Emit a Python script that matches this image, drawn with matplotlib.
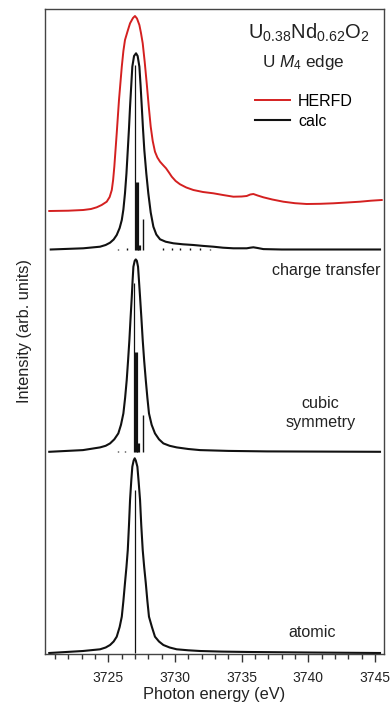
import matplotlib
matplotlib.use("Agg")
import matplotlib.pyplot as plt
from matplotlib.lines import Line2D

plt.rcParams["font.family"] = ["Liberation Sans", "DejaVu Sans"]
plt.rcParams["mathtext.fontset"] = "custom"
plt.rcParams["mathtext.rm"] = "Liberation Sans"
plt.rcParams["mathtext.it"] = "Liberation Sans:italic"

# ---------------- data ----------------
# HERFD measurement (energy in eV, intensity above its own baseline)
herfd_E = [3720.57, 3722.00, 3723.12, 3723.70, 3724.13, 3724.50, 3724.88, 3725.10,
           3725.26, 3725.36, 3725.45, 3725.63, 3725.80, 3726.01, 3726.13, 3726.25,
           3726.45, 3726.63, 3726.85, 3727.00, 3727.15, 3727.33, 3727.45, 3727.58,
           3727.73, 3727.88, 3728.03, 3728.18, 3728.33, 3728.50, 3728.68, 3728.88,
           3729.10, 3729.33, 3729.55, 3729.76, 3730.05, 3730.38, 3730.85, 3731.38,
           3732.10, 3732.88, 3733.60, 3734.38, 3735.00, 3735.38, 3735.65, 3735.88,
           3736.20, 3736.63, 3737.30, 3738.13, 3739.00, 3739.88, 3740.90, 3741.88,
           3742.90, 3743.88, 3744.70, 3745.51]
herfd_I = [0.000, 0.003, 0.010, 0.020, 0.037, 0.060, 0.093, 0.140,
           0.210, 0.310, 0.443, 0.777, 1.110, 1.443, 1.600, 1.710,
           1.800, 1.877, 1.930, 1.950, 1.925, 1.860, 1.780, 1.677,
           1.490, 1.277, 1.050, 0.843, 0.700, 0.593, 0.535, 0.493,
           0.460, 0.427, 0.385, 0.343, 0.300, 0.267, 0.235, 0.210,
           0.190, 0.177, 0.160, 0.143, 0.145, 0.150, 0.165, 0.170,
           0.155, 0.137, 0.115, 0.093, 0.078, 0.070, 0.072, 0.077,
           0.085, 0.093, 0.103, 0.110]

# charge-transfer calculation
ct_E = [3720.68, 3723.12, 3724.38, 3724.80, 3725.13, 3725.40, 3725.63, 3725.85,
        3726.01, 3726.13, 3726.25, 3726.36, 3726.46, 3726.55, 3726.63, 3726.72,
        3726.80, 3726.93, 3727.08, 3727.20, 3727.33, 3727.42, 3727.51, 3727.60,
        3727.70, 3727.85, 3728.00, 3728.18, 3728.38, 3728.60, 3728.88, 3729.30,
        3729.88, 3730.60, 3731.38, 3732.10, 3732.88, 3733.60, 3734.38, 3735.38,
        3735.65, 3735.88, 3736.20, 3736.63, 3738.00, 3745.38]
ct_I = [0.000, 0.012, 0.028, 0.045, 0.068, 0.100, 0.145, 0.215,
        0.295, 0.400, 0.562, 0.760, 0.995, 1.210, 1.428, 1.640,
        1.828, 1.935, 1.962, 1.935, 1.828, 1.640, 1.428, 1.210,
        0.995, 0.760, 0.562, 0.370, 0.228, 0.150, 0.102, 0.078,
        0.062, 0.052, 0.045, 0.036, 0.028, 0.018, 0.012, 0.012,
        0.018, 0.022, 0.015, 0.004, 0.000, 0.000]
ct_stick_E = [3725.75, 3726.38, 3727.00, 3727.13, 3727.33, 3727.63,
              3729.10, 3729.78, 3730.38, 3731.13, 3731.88, 3732.63]
ct_stick_I = [0.008, 0.012, 1.850, 0.680, 0.050, 0.310,
              0.012, 0.018, 0.015, 0.020, 0.012, 0.010]

# crystal field (cubic symmetry) calculation
cub_E = [3720.57, 3723.10, 3724.38, 3724.80, 3725.13, 3725.45, 3725.75, 3725.95,
         3726.13, 3726.26, 3726.38, 3726.48, 3726.58, 3726.67, 3726.76, 3726.82,
         3726.88, 3726.98, 3727.06, 3727.14, 3727.23, 3727.30, 3727.38, 3727.48,
         3727.58, 3727.69, 3727.81, 3727.93, 3728.05, 3728.25, 3728.50, 3728.80,
         3729.13, 3729.60, 3730.13, 3731.00, 3731.88, 3734.00, 3736.88, 3745.38]
cub_I = [0.000, 0.017, 0.044, 0.060, 0.084, 0.125, 0.184, 0.270,
         0.384, 0.540, 0.717, 0.910, 1.117, 1.340, 1.550, 1.710,
         1.850, 1.910, 1.924, 1.910, 1.850, 1.710, 1.550, 1.340,
         1.117, 0.910, 0.717, 0.540, 0.384, 0.270, 0.184, 0.125,
         0.084, 0.060, 0.044, 0.028, 0.017, 0.009, 0.004, 0.000]
cub_stick_E = [3725.75, 3726.25, 3726.93, 3727.06, 3727.21, 3727.58]
cub_stick_I = [0.006, 0.010, 1.690, 1.000, 0.090, 0.367]

# atomic calculation
at_E = [3720.57, 3723.10, 3724.38, 3724.80, 3725.13, 3725.40, 3725.63, 3725.85,
        3726.01, 3726.13, 3726.25, 3726.36, 3726.46, 3726.55, 3726.63, 3726.72,
        3726.80, 3726.90, 3726.98, 3727.06, 3727.18, 3727.27, 3727.38, 3727.47,
        3727.58, 3727.69, 3727.81, 3727.93, 3728.05, 3728.27, 3728.50, 3728.80,
        3729.13, 3729.60, 3730.13, 3731.00, 3731.88, 3733.50, 3735.63, 3740.00,
        3745.38]
at_I = [0.000, 0.020, 0.037, 0.055, 0.080, 0.115, 0.163, 0.260,
        0.363, 0.520, 0.700, 0.860, 1.030, 1.280, 1.530, 1.720,
        1.863, 1.925, 1.947, 1.925, 1.863, 1.720, 1.530, 1.280,
        1.030, 0.860, 0.700, 0.520, 0.363, 0.260, 0.163, 0.115,
        0.080, 0.055, 0.037, 0.027, 0.020, 0.014, 0.010, 0.005,
        0.000]
at_stick_E = [3726.98]
at_stick_I = [1.630]

labels = ["charge transfer", "cubic\nsymmetry", "atomic"]

# ---------------- layout ----------------
offset_herfd = 4.43
offset_ct = 4.045
offset_cub = 2.022
offset_at = 0.010

fig = plt.figure(figsize=(3.92, 7.05), dpi=100)
ax = fig.add_axes([45 / 392, 51 / 705, 339 / 392, 645 / 705])

red = "#d42020"
blk = "#111111"
txt = "#222222"

def shift(vals, off):
    return [v + off for v in vals]

ax.plot(herfd_E, shift(herfd_I, offset_herfd), color=red, lw=1.4, solid_joinstyle="round")
ax.plot(ct_E, shift(ct_I, offset_ct), color=blk, lw=1.5, solid_joinstyle="round")
ax.plot(cub_E, shift(cub_I, offset_cub), color=blk, lw=1.5, solid_joinstyle="round")
ax.plot(at_E, shift(at_I, offset_at), color=blk, lw=1.5, solid_joinstyle="round")

# stick spectra: multiplets that pile up are drawn heavier
ct_lw = [1.0, 1.0, 0.9, 2.3, 2.3, 1.0, 1.0, 1.0, 1.0, 1.0, 1.0, 1.0]
cub_lw = [1.0, 1.0, 0.9, 2.3, 2.3, 1.0]
ax.vlines(ct_stick_E, offset_ct, shift(ct_stick_I, offset_ct), colors=blk, linewidths=ct_lw)
ax.vlines(cub_stick_E, offset_cub, shift(cub_stick_I, offset_cub), colors=blk, linewidths=cub_lw)
ax.vlines(at_stick_E, offset_at, shift(at_stick_I, offset_at), colors=blk, linewidths=[0.9])

ax.set_xlim(3720.25, 3745.68)
ax.set_ylim(0, 6.45)

ax.set_yticks([])
ax.set_xticks([3725, 3730, 3735, 3740, 3745])
ax.set_xticks(range(3721, 3746), minor=True)
ax.tick_params(axis="x", which="major", direction="out", length=6, width=1.0,
               labelsize=10, pad=6, colors="#333333", labelcolor=txt)
ax.tick_params(axis="x", which="minor", direction="out", length=3.5, width=1.0,
               colors="#333333")
for sp in ax.spines.values():
    sp.set_linewidth(1.0)
    sp.set_color("#444444")

ax.set_xlabel("Photon energy (eV)", fontsize=11.8, color=txt, labelpad=2)
ax.set_ylabel("Intensity (arb. units)", fontsize=11.8, color=txt, labelpad=9)

# annotations
ax.text(3740.05, 6.21, r"U$_{0.38}$Nd$_{0.62}$O$_2$", fontsize=14.5, ha="center",
        va="center", color=txt)
ax.text(3739.6, 5.91, r"U $\mathit{M_4}$ edge", fontsize=12.3, ha="center",
        va="center", color=txt)
ax.text(3745.4, 3.83, labels[0], fontsize=11.6, ha="right", va="center", color=txt)
ax.text(3740.9, 2.41, labels[1], fontsize=11.6, ha="center", va="center",
        color=txt, linespacing=1.3)
ax.text(3740.3, 0.215, labels[2], fontsize=11.6, ha="center", va="center", color=txt)

handles = [Line2D([], [], color=red, lw=1.4), Line2D([], [], color=blk, lw=1.5)]
ax.legend(handles, ["HERFD", "calc"], loc="upper left", bbox_to_anchor=(0.60, 0.878),
          frameon=False, fontsize=11.5, handlelength=2.2, handletextpad=0.5,
          labelspacing=0.3, borderaxespad=0.0)

fig.savefig("out.png", dpi=100)
